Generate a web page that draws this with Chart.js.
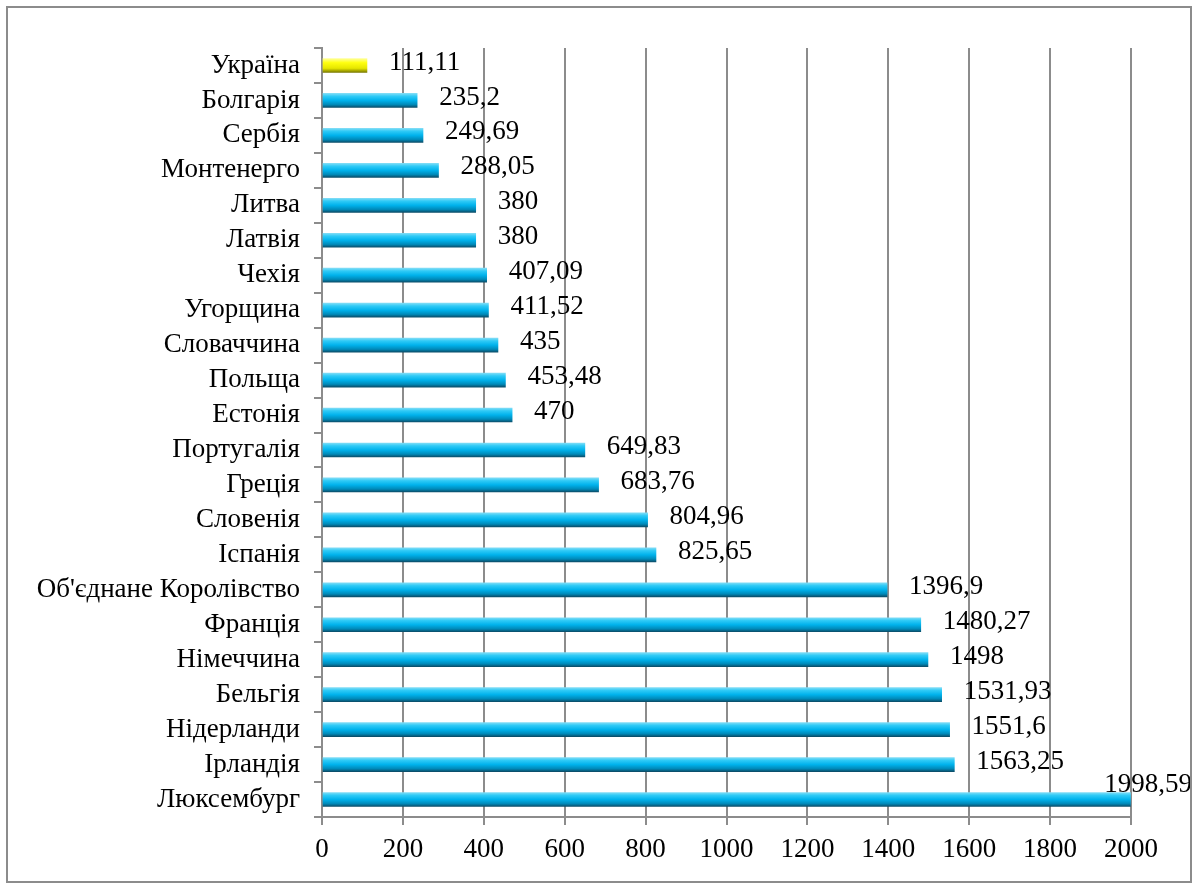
<!DOCTYPE html>
<html>
<head>
<meta charset="utf-8">
<script src="https://cdn.jsdelivr.net/npm/chart.js@4"></script>
<style>
  html, body { margin: 0; padding: 0; background: #fff; }
  #wrap { position: relative; width: 1200px; height: 892px; }
  #frame { position: absolute; left: 6px; top: 6px; width: 1186px; height: 877px; border: 2px solid #8c8c8c; box-sizing: border-box; pointer-events: none; }
</style>
</head>
<body>
<div id="wrap">
  <canvas id="myChart" width="1200" height="892"></canvas>
  <div id="frame"></div>
</div>
<script>
const countries = ["Україна", "Болгарія", "Сербія", "Монтенерго", "Литва", "Латвія", "Чехія", "Угорщина",
  "Словаччина", "Польща", "Естонія", "Португалія", "Греція", "Словенія", "Іспанія",
  "Об'єднане Королівство", "Франція", "Німеччина", "Бельгія", "Нідерланди", "Ірландія", "Люксембург"]
const values = [111.11, 235.2, 249.69, 288.05, 380, 380, 407.09, 411.52, 435, 453.48, 470, 649.83,
  683.76, 804.96, 825.65, 1396.9, 1480.27, 1498, 1531.93, 1551.6, 1563.25, 1998.59]
const xTicks = [0, 200, 400, 600, 800, 1000, 1200, 1400, 1600, 1800, 2000]
const highlight = "Україна"

const FONT = "'Liberation Serif', 'Times New Roman', serif"
const FONT_SIZE = 27
const BAR_H = 14

function barGradient(context){
    const chart = context.chart
    const yScale = chart.scales.y
    const isYellow = countries[context.dataIndex] === highlight
    if(!yScale || !chart.chartArea){
        return isYellow ? "#ffff00" : "#00b0f0"
    }
    const cy = yScale.getPixelForValue(context.dataIndex)
    const g = chart.ctx.createLinearGradient(0, cy - BAR_H / 2, 0, cy + BAR_H / 2)
    if(isYellow){
        g.addColorStop(0, "#ffff9a")
        g.addColorStop(0.3, "#ffff10")
        g.addColorStop(0.7, "#e6e600")
        g.addColorStop(1, "#7a7a00")
    }else{
        g.addColorStop(0, "#7fdcf6")
        g.addColorStop(0.2, "#2fcaf6")
        g.addColorStop(0.5, "#00b2ec")
        g.addColorStop(0.8, "#0089b8")
        g.addColorStop(1, "#0b4e6a")
    }
    return g
}

// подписи значений справа от столбцов
const valueLabels = {
    id: "valueLabels",
    afterDatasetsDraw(chart){
        const ctx = chart.ctx
        const meta = chart.getDatasetMeta(0)
        ctx.save()
        ctx.font = FONT_SIZE + "px " + FONT
        ctx.fillStyle = "#000"
        ctx.textBaseline = "middle"
        ctx.textAlign = "left"
        meta.data.forEach((bar, i) => {
            const txt = String(values[i]).replace(".", ",")
            const w = ctx.measureText(txt).width
            let x = bar.x + 22
            let y = bar.y - 3
            if(x + w > chart.width - 8){
                x = chart.width - 8 - w
                y = bar.y - 15
            }
            ctx.fillText(txt, x, y)
        })
        ctx.restore()
    }
}

function init(){
    const ctx = document.getElementById("myChart")
    new Chart(ctx, {
        type: "bar",
        data: {
            labels: countries,
            datasets: [{
                data: values,
                backgroundColor: barGradient,
                borderWidth: 0,
                barThickness: BAR_H
            }]
        },
        options: {
            indexAxis: "y",
            responsive: false,
            animation: false,
            layout: { padding: { top: 48, right: 69, left: 0, bottom: 0 } },
            plugins: { legend: { display: false }, tooltip: { enabled: false } },
            scales: {
                x: {
                    min: 0,
                    max: 2000,
                    afterBuildTicks: (scale) => { scale.ticks = xTicks.map(v => ({ value: v })) },
                    afterFit: (scale) => { scale.height = 75 },
                    grid: { color: "#8c8c8c", lineWidth: 2, tickLength: 8, drawTicks: true },
                    border: { color: "#8c8c8c", width: 2 },
                    ticks: { color: "#000", font: { family: FONT, size: FONT_SIZE }, padding: 9, maxRotation: 0,
                        callback: (v) => String(v) }
                },
                y: {
                    afterFit: (scale) => { scale.width = 322 },
                    grid: { display: true, drawOnChartArea: false, offset: true, color: "#8c8c8c", lineWidth: 2, tickLength: 8 },
                    border: { color: "#8c8c8c", width: 2 },
                    ticks: { color: "#000", font: { family: FONT, size: FONT_SIZE }, padding: 14, autoSkip: false }
                }
            }
        },
        plugins: [valueLabels]
    })
}

init()
</script>
</body>
</html>
